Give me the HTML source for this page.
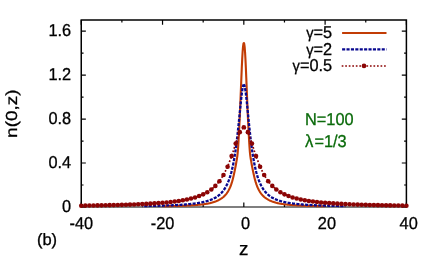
<!DOCTYPE html><html><head><meta charset="utf-8"><style>html,body{margin:0;padding:0;background:#fff}svg{display:block;will-change:transform}text{text-rendering:geometricPrecision;font-family:"Liberation Sans",sans-serif;font-size:17.2px;letter-spacing:0px;fill:#000;stroke:#000;stroke-width:0.3px}</style></head><body>
<svg width="436" height="260" viewBox="0 0 436 260">
<rect width="436" height="260" fill="#fff"/>
<g stroke="#000" stroke-width="1.5" fill="none">
<path d="M81.25,207.00 V20.10 H406.40 V207.00" stroke-linejoin="miter"/>
</g><g stroke="#000" stroke-width="1.2" fill="none">
<path d="M80.50,207.00 H407.15"/>
<path d="M81.25,207.00 v-4.60 M81.25,20.10 v4.60"/>
<path d="M121.89,207.00 v-2.30 M121.89,20.10 v2.30"/>
<path d="M162.54,207.00 v-4.60 M162.54,20.10 v4.60"/>
<path d="M203.18,207.00 v-2.30 M203.18,20.10 v2.30"/>
<path d="M243.82,207.00 v-4.60 M243.82,20.10 v4.60"/>
<path d="M284.47,207.00 v-2.30 M284.47,20.10 v2.30"/>
<path d="M325.11,207.00 v-4.60 M325.11,20.10 v4.60"/>
<path d="M365.76,207.00 v-2.30 M365.76,20.10 v2.30"/>
<path d="M406.40,207.00 v-4.60 M406.40,20.10 v4.60"/>
<path d="M81.25,207.00 h4.60 M406.40,207.00 h-4.60"/>
<path d="M81.25,185.01 h2.30 M406.40,185.01 h-2.30"/>
<path d="M81.25,163.02 h4.60 M406.40,163.02 h-4.60"/>
<path d="M81.25,141.04 h2.30 M406.40,141.04 h-2.30"/>
<path d="M81.25,119.05 h4.60 M406.40,119.05 h-4.60"/>
<path d="M81.25,97.06 h2.30 M406.40,97.06 h-2.30"/>
<path d="M81.25,75.07 h4.60 M406.40,75.07 h-4.60"/>
<path d="M81.25,53.08 h2.30 M406.40,53.08 h-2.30"/>
<path d="M81.25,31.09 h4.60 M406.40,31.09 h-4.60"/>
</g>
<path d="M162.54,206.26 L162.94,206.25 L163.35,206.24 L163.76,206.24 L164.16,206.23 L164.57,206.22 L164.98,206.22 L165.38,206.21 L165.79,206.20 L166.20,206.19 L166.60,206.18 L167.01,206.18 L167.41,206.17 L167.82,206.16 L168.23,206.15 L168.63,206.14 L169.04,206.13 L169.45,206.13 L169.85,206.12 L170.26,206.11 L170.67,206.10 L171.07,206.09 L171.48,206.08 L171.89,206.07 L172.29,206.06 L172.70,206.05 L173.10,206.04 L173.51,206.03 L173.92,206.02 L174.32,206.01 L174.73,206.00 L175.14,205.99 L175.54,205.97 L175.95,205.96 L176.36,205.95 L176.76,205.94 L177.17,205.93 L177.58,205.91 L177.98,205.90 L178.39,205.89 L178.80,205.88 L179.20,205.86 L179.61,205.85 L180.01,205.84 L180.42,205.82 L180.83,205.81 L181.23,205.79 L181.64,205.78 L182.05,205.76 L182.45,205.75 L182.86,205.73 L183.27,205.72 L183.67,205.70 L184.08,205.68 L184.49,205.67 L184.89,205.65 L185.30,205.63 L185.70,205.62 L186.11,205.60 L186.52,205.58 L186.92,205.56 L187.33,205.54 L187.74,205.52 L188.14,205.50 L188.55,205.48 L188.96,205.46 L189.36,205.44 L189.77,205.42 L190.18,205.39 L190.58,205.37 L190.99,205.35 L191.39,205.32 L191.80,205.30 L192.21,205.27 L192.61,205.25 L193.02,205.22 L193.43,205.19 L193.83,205.17 L194.24,205.14 L194.65,205.11 L195.05,205.08 L195.46,205.05 L195.87,205.02 L196.27,204.99 L196.68,204.96 L197.08,204.92 L197.49,204.89 L197.90,204.85 L198.30,204.82 L198.71,204.78 L199.12,204.74 L199.52,204.70 L199.93,204.66 L200.34,204.62 L200.74,204.58 L201.15,204.53 L201.56,204.49 L201.96,204.44 L202.37,204.39 L202.77,204.35 L203.18,204.29 L203.59,204.24 L203.99,204.19 L204.40,204.13 L204.81,204.07 L205.21,204.01 L205.62,203.95 L206.03,203.89 L206.43,203.82 L206.84,203.75 L207.25,203.68 L207.65,203.61 L208.06,203.53 L208.46,203.45 L208.87,203.37 L209.28,203.29 L209.68,203.20 L210.09,203.11 L210.50,203.01 L210.90,202.91 L211.31,202.81 L211.72,202.70 L212.12,202.59 L212.53,202.48 L212.94,202.36 L213.34,202.24 L213.75,202.11 L214.16,201.98 L214.56,201.84 L214.97,201.69 L215.37,201.55 L215.78,201.39 L216.19,201.23 L216.59,201.06 L217.00,200.89 L217.41,200.71 L217.81,200.52 L218.22,200.32 L218.63,200.12 L219.03,199.91 L219.44,199.69 L219.85,199.46 L220.25,199.22 L220.66,198.97 L221.06,198.71 L221.47,198.43 L221.88,198.15 L222.28,197.85 L222.69,197.53 L223.10,197.20 L223.50,196.86 L223.91,196.49 L224.32,196.11 L224.72,195.70 L225.13,195.28 L225.54,194.83 L225.94,194.35 L226.35,193.84 L226.75,193.31 L227.16,192.73 L227.57,192.13 L227.97,191.48 L228.38,190.79 L228.79,190.05 L229.19,189.26 L229.60,188.41 L230.01,187.51 L230.41,186.54 L230.82,185.50 L231.23,184.39 L231.63,183.19 L232.04,181.91 L232.44,180.52 L232.85,179.00 L233.26,177.36 L233.66,175.61 L234.07,173.77 L234.48,171.87 L234.88,169.92 L235.29,167.90 L235.70,165.79 L236.10,163.54 L236.51,161.16 L236.92,158.78 L237.32,156.05 L237.73,152.36 L238.13,147.15 L238.54,140.58 L238.95,133.21 L239.35,125.44 L239.76,116.87 L240.17,107.58 L240.57,97.75 L240.98,87.61 L241.39,77.50 L241.79,67.83 L242.20,59.14 L242.61,51.98 L243.01,46.79 L243.42,43.81 L243.83,42.97 L244.23,43.81 L244.64,46.79 L245.04,51.98 L245.45,59.14 L245.86,67.83 L246.26,77.50 L246.67,87.61 L247.08,97.75 L247.48,107.58 L247.89,116.87 L248.30,125.44 L248.70,133.21 L249.11,140.58 L249.52,147.15 L249.92,152.36 L250.33,156.05 L250.73,158.78 L251.14,161.16 L251.55,163.54 L251.95,165.79 L252.36,167.90 L252.77,169.92 L253.17,171.87 L253.58,173.77 L253.99,175.61 L254.39,177.36 L254.80,179.00 L255.21,180.52 L255.61,181.91 L256.02,183.19 L256.42,184.39 L256.83,185.50 L257.24,186.54 L257.64,187.51 L258.05,188.41 L258.46,189.26 L258.86,190.05 L259.27,190.79 L259.68,191.48 L260.08,192.13 L260.49,192.73 L260.90,193.31 L261.30,193.84 L261.71,194.35 L262.11,194.83 L262.52,195.28 L262.93,195.70 L263.33,196.11 L263.74,196.49 L264.15,196.86 L264.55,197.20 L264.96,197.53 L265.37,197.85 L265.77,198.15 L266.18,198.43 L266.59,198.71 L266.99,198.97 L267.40,199.22 L267.80,199.46 L268.21,199.69 L268.62,199.91 L269.02,200.12 L269.43,200.32 L269.84,200.52 L270.24,200.71 L270.65,200.89 L271.06,201.06 L271.46,201.23 L271.87,201.39 L272.28,201.55 L272.68,201.69 L273.09,201.84 L273.49,201.98 L273.90,202.11 L274.31,202.24 L274.71,202.36 L275.12,202.48 L275.53,202.59 L275.93,202.70 L276.34,202.81 L276.75,202.91 L277.15,203.01 L277.56,203.11 L277.97,203.20 L278.37,203.29 L278.78,203.37 L279.19,203.45 L279.59,203.53 L280.00,203.61 L280.40,203.68 L280.81,203.75 L281.22,203.82 L281.62,203.89 L282.03,203.95 L282.44,204.01 L282.84,204.07 L283.25,204.13 L283.66,204.19 L284.06,204.24 L284.47,204.29 L284.88,204.35 L285.28,204.39 L285.69,204.44 L286.09,204.49 L286.50,204.53 L286.91,204.58 L287.31,204.62 L287.72,204.66 L288.13,204.70 L288.53,204.74 L288.94,204.78 L289.35,204.82 L289.75,204.85 L290.16,204.89 L290.57,204.92 L290.97,204.96 L291.38,204.99 L291.78,205.02 L292.19,205.05 L292.60,205.08 L293.00,205.11 L293.41,205.14 L293.82,205.17 L294.22,205.19 L294.63,205.22 L295.04,205.25 L295.44,205.27 L295.85,205.30 L296.26,205.32 L296.66,205.35 L297.07,205.37 L297.47,205.39 L297.88,205.42 L298.29,205.44 L298.69,205.46 L299.10,205.48 L299.51,205.50 L299.91,205.52 L300.32,205.54 L300.73,205.56 L301.13,205.58 L301.54,205.60 L301.95,205.62 L302.35,205.63 L302.76,205.65 L303.16,205.67 L303.57,205.68 L303.98,205.70 L304.38,205.72 L304.79,205.73 L305.20,205.75 L305.60,205.76 L306.01,205.78 L306.42,205.79 L306.82,205.81 L307.23,205.82 L307.64,205.84 L308.04,205.85 L308.45,205.86 L308.85,205.88 L309.26,205.89 L309.67,205.90 L310.07,205.91 L310.48,205.93 L310.89,205.94 L311.29,205.95 L311.70,205.96 L312.11,205.97 L312.51,205.99 L312.92,206.00 L313.33,206.01 L313.73,206.02 L314.14,206.03 L314.55,206.04 L314.95,206.05 L315.36,206.06 L315.76,206.07 L316.17,206.08 L316.58,206.09 L316.98,206.10 L317.39,206.11 L317.80,206.12 L318.20,206.13 L318.61,206.13 L319.02,206.14 L319.42,206.15 L319.83,206.16 L320.24,206.17 L320.64,206.18 L321.05,206.18 L321.45,206.19 L321.86,206.20 L322.27,206.21 L322.67,206.22 L323.08,206.22 L323.49,206.23 L323.89,206.24 L324.30,206.24 L324.71,206.25 L325.11,206.26" fill="none" stroke="#c23c05" stroke-width="2.1" stroke-linejoin="round"/>
<path d="M243.82,84.53 L243.42,84.99 L243.01,86.23 L242.61,88.14 L242.20,90.64 L241.79,93.63 L241.39,97.02 L240.98,100.71 L240.57,104.62 L240.17,108.66 L239.76,112.78 L239.35,116.90 L238.95,120.99 L238.54,125.00 L238.13,128.90 L237.73,132.68 L237.32,136.30 L236.92,139.77 L236.51,143.08 L236.10,146.22 L235.70,149.20 L235.29,152.02 L234.88,154.69 L234.48,157.20 L234.07,159.57 L233.66,161.81 L233.26,163.91 L232.85,165.89 L232.44,167.76 L232.04,169.51 L231.63,171.17 L231.23,172.73 L230.82,174.19 L230.41,175.58 L230.01,176.89 L229.60,178.12 L229.19,179.28 L228.79,180.38 L228.38,181.42 L227.97,182.41 L227.57,183.34 L227.16,184.22 L226.75,185.06 L226.35,185.85 L225.94,186.61 L225.54,187.32 L225.13,188.00 L224.72,188.65 L224.32,189.26 L223.91,189.85 L223.50,190.41 L223.10,190.94 L222.69,191.45 L222.28,191.93 L221.88,192.40 L221.47,192.84 L221.06,193.26 L220.66,193.67 L220.25,194.05 L219.85,194.43 L219.44,194.78 L219.03,195.12 L218.63,195.45 L218.22,195.76 L217.81,196.07 L217.41,196.36 L217.00,196.63 L216.59,196.90 L216.19,197.16 L215.78,197.41 L215.37,197.65 L214.97,197.88 L214.56,198.10 L214.16,198.31 L213.75,198.52 L213.34,198.72 L212.94,198.91 L212.53,199.10 L212.12,199.28 L211.72,199.45 L211.31,199.62 L210.90,199.78 L210.50,199.94 L210.09,200.09 L209.68,200.23 L209.28,200.38 L208.87,200.51 L208.46,200.65 L208.06,200.78 L207.65,200.90 L207.25,201.02 L206.84,201.14 L206.43,201.26 L206.03,201.37 L205.62,201.48 L205.21,201.58 L204.81,201.68 L204.40,201.78 L203.99,201.88 L203.59,201.97 L203.18,202.07 L202.77,202.15 L202.37,202.24 L201.96,202.32 L201.56,202.41 L201.15,202.49 L200.74,202.56 L200.34,202.64 L199.93,202.71 L199.52,202.78 L199.12,202.85 L198.71,202.92 L198.30,202.99 L197.90,203.05 L197.49,203.12 L197.08,203.18 L196.68,203.24 L196.27,203.30 L195.87,203.36 L195.46,203.41 L195.05,203.47 L194.65,203.52 L194.24,203.57 L193.83,203.63 L193.43,203.68 L193.02,203.72 L192.61,203.77 L192.21,203.82 L191.80,203.87 L191.39,203.91 L190.99,203.95 L190.58,204.00 L190.18,204.04 L189.77,204.08 L189.36,204.12 L188.96,204.16 L188.55,204.20 L188.14,204.24 L187.74,204.27 L187.33,204.31 L186.92,204.35 L186.52,204.38 L186.11,204.41 L185.70,204.45 L185.30,204.48 L184.89,204.51 L184.49,204.54 L184.08,204.58 L183.67,204.61 L183.27,204.64 L182.86,204.67 L182.45,204.69 L182.05,204.72 L181.64,204.75 L181.23,204.78 L180.83,204.80 L180.42,204.83 L180.01,204.86 L179.61,204.88 L179.20,204.91 L178.80,204.93 L178.39,204.95 L177.98,204.98 L177.58,205.00 L177.17,205.02 L176.76,205.05 L176.36,205.07 L175.95,205.09 L175.54,205.11 L175.14,205.13 L174.73,205.15 L174.32,205.17 L173.92,205.19 L173.51,205.21 L173.10,205.23 L172.70,205.25 L172.29,205.27 L171.89,205.29 L171.48,205.30 L171.07,205.32 L170.67,205.34 L170.26,205.36 L169.85,205.37 L169.45,205.39 L169.04,205.41 L168.63,205.42 L168.23,205.44 L167.82,205.45 L167.41,205.47 L167.01,205.48 L166.60,205.50 L166.20,205.51 L165.79,205.53 L165.38,205.54 L164.98,205.56 L164.57,205.57 L164.16,205.58 L163.76,205.60 L163.35,205.61 L162.94,205.62 L162.54,205.64 L162.13,205.65 L161.72,205.66 L161.32,205.68 L160.91,205.69 L160.51,205.70 L160.10,205.71 L159.69,205.72 L159.29,205.73 L158.88,205.75 L158.47,205.76 L158.07,205.77 L157.66,205.78 L157.25,205.79 L156.85,205.80 L156.44,205.81 L156.03,205.82 L155.63,205.83 L155.22,205.84 L154.82,205.85 L154.41,205.86 L154.00,205.87 L153.60,205.88 L153.19,205.89 L152.78,205.90 L152.38,205.91 L151.97,205.92 L151.56,205.93 L151.16,205.94 L150.75,205.94 L150.34,205.95 L149.94,205.96 L149.53,205.97 L149.13,205.98 L148.72,205.99 L148.31,205.99 L147.91,206.00 L147.50,206.01 L147.09,206.02 L146.69,206.03 L146.28,206.03 L145.87,206.04 L145.47,206.05 L145.06,206.06 L144.65,206.06 L144.25,206.07 L143.84,206.08 L143.43,206.08 L143.03,206.09 L142.62,206.10 L142.22,206.10" fill="none" stroke="#08088f" stroke-width="2.3" stroke-dasharray="3.1,1.3" stroke-dashoffset="0.5" stroke-linejoin="round"/>
<path d="M243.82,84.53 L244.23,84.99 L244.64,86.23 L245.04,88.14 L245.45,90.64 L245.86,93.63 L246.26,97.02 L246.67,100.71 L247.08,104.62 L247.48,108.66 L247.89,112.78 L248.30,116.90 L248.70,120.99 L249.11,125.00 L249.52,128.90 L249.92,132.68 L250.33,136.30 L250.73,139.77 L251.14,143.08 L251.55,146.22 L251.95,149.20 L252.36,152.02 L252.77,154.69 L253.17,157.20 L253.58,159.57 L253.99,161.81 L254.39,163.91 L254.80,165.89 L255.21,167.76 L255.61,169.51 L256.02,171.17 L256.42,172.73 L256.83,174.19 L257.24,175.58 L257.64,176.89 L258.05,178.12 L258.46,179.28 L258.86,180.38 L259.27,181.42 L259.68,182.41 L260.08,183.34 L260.49,184.22 L260.90,185.06 L261.30,185.85 L261.71,186.61 L262.11,187.32 L262.52,188.00 L262.93,188.65 L263.33,189.26 L263.74,189.85 L264.15,190.41 L264.55,190.94 L264.96,191.45 L265.37,191.93 L265.77,192.40 L266.18,192.84 L266.59,193.26 L266.99,193.67 L267.40,194.05 L267.80,194.43 L268.21,194.78 L268.62,195.12 L269.02,195.45 L269.43,195.76 L269.84,196.07 L270.24,196.36 L270.65,196.63 L271.06,196.90 L271.46,197.16 L271.87,197.41 L272.28,197.65 L272.68,197.88 L273.09,198.10 L273.49,198.31 L273.90,198.52 L274.31,198.72 L274.71,198.91 L275.12,199.10 L275.53,199.28 L275.93,199.45 L276.34,199.62 L276.75,199.78 L277.15,199.94 L277.56,200.09 L277.97,200.23 L278.37,200.38 L278.78,200.51 L279.19,200.65 L279.59,200.78 L280.00,200.90 L280.40,201.02 L280.81,201.14 L281.22,201.26 L281.62,201.37 L282.03,201.48 L282.44,201.58 L282.84,201.68 L283.25,201.78 L283.66,201.88 L284.06,201.97 L284.47,202.07 L284.88,202.15 L285.28,202.24 L285.69,202.32 L286.09,202.41 L286.50,202.49 L286.91,202.56 L287.31,202.64 L287.72,202.71 L288.13,202.78 L288.53,202.85 L288.94,202.92 L289.35,202.99 L289.75,203.05 L290.16,203.12 L290.57,203.18 L290.97,203.24 L291.38,203.30 L291.78,203.36 L292.19,203.41 L292.60,203.47 L293.00,203.52 L293.41,203.57 L293.82,203.63 L294.22,203.68 L294.63,203.72 L295.04,203.77 L295.44,203.82 L295.85,203.87 L296.26,203.91 L296.66,203.95 L297.07,204.00 L297.47,204.04 L297.88,204.08 L298.29,204.12 L298.69,204.16 L299.10,204.20 L299.51,204.24 L299.91,204.27 L300.32,204.31 L300.73,204.35 L301.13,204.38 L301.54,204.41 L301.95,204.45 L302.35,204.48 L302.76,204.51 L303.16,204.54 L303.57,204.58 L303.98,204.61 L304.38,204.64 L304.79,204.67 L305.20,204.69 L305.60,204.72 L306.01,204.75 L306.42,204.78 L306.82,204.80 L307.23,204.83 L307.64,204.86 L308.04,204.88 L308.45,204.91 L308.85,204.93 L309.26,204.95 L309.67,204.98 L310.07,205.00 L310.48,205.02 L310.89,205.05 L311.29,205.07 L311.70,205.09 L312.11,205.11 L312.51,205.13 L312.92,205.15 L313.33,205.17 L313.73,205.19 L314.14,205.21 L314.55,205.23 L314.95,205.25 L315.36,205.27 L315.76,205.29 L316.17,205.30 L316.58,205.32 L316.98,205.34 L317.39,205.36 L317.80,205.37 L318.20,205.39 L318.61,205.41 L319.02,205.42 L319.42,205.44 L319.83,205.45 L320.24,205.47 L320.64,205.48 L321.05,205.50 L321.45,205.51 L321.86,205.53 L322.27,205.54 L322.67,205.56 L323.08,205.57 L323.49,205.58 L323.89,205.60 L324.30,205.61 L324.71,205.62 L325.11,205.64 L325.52,205.65 L325.93,205.66 L326.33,205.68 L326.74,205.69 L327.14,205.70 L327.55,205.71 L327.96,205.72 L328.36,205.73 L328.77,205.75 L329.18,205.76 L329.58,205.77 L329.99,205.78 L330.40,205.79 L330.80,205.80 L331.21,205.81 L331.62,205.82 L332.02,205.83 L332.43,205.84 L332.83,205.85 L333.24,205.86 L333.65,205.87 L334.05,205.88 L334.46,205.89 L334.87,205.90 L335.27,205.91 L335.68,205.92 L336.09,205.93 L336.49,205.94 L336.90,205.94 L337.31,205.95 L337.71,205.96 L338.12,205.97 L338.52,205.98 L338.93,205.99 L339.34,205.99 L339.74,206.00 L340.15,206.01 L340.56,206.02 L340.96,206.03 L341.37,206.03 L341.78,206.04 L342.18,206.05 L342.59,206.06 L343.00,206.06 L343.40,206.07 L343.81,206.08 L344.22,206.08 L344.62,206.09 L345.03,206.10 L345.43,206.10" fill="none" stroke="#08088f" stroke-width="2.3" stroke-dasharray="3.1,1.3" stroke-dashoffset="0.5" stroke-linejoin="round"/>
<path d="M81.25,205.68 L85.31,205.62 L89.38,205.56 L93.44,205.49 L97.51,205.42 L101.57,205.35 L105.64,205.26 L109.70,205.17 L113.76,205.08 L117.83,204.97 L121.89,204.86 L125.96,204.73 L130.02,204.60 L134.09,204.45 L138.15,204.28 L142.22,204.10 L146.28,203.89 L150.34,203.66 L154.41,203.41 L158.47,203.12 L162.54,202.80 L166.60,202.43 L170.67,202.00 L174.73,201.51 L178.79,200.95 L182.86,200.28 L186.92,199.50 L190.99,198.56 L195.05,197.43 L199.12,196.05 L203.18,194.35 L207.25,192.20 L211.31,189.47 L215.37,185.92 L219.44,181.25 L223.50,175.03 L227.57,166.76 L231.63,156.09 L235.70,143.58 L239.76,132.17 L243.82,127.29 L247.89,132.17 L251.95,143.58 L256.02,156.09 L260.08,166.76 L264.15,175.03 L268.21,181.25 L272.28,185.92 L276.34,189.47 L280.40,192.20 L284.47,194.35 L288.53,196.05 L292.60,197.43 L296.66,198.56 L300.73,199.50 L304.79,200.28 L308.86,200.95 L312.92,201.51 L316.98,202.00 L321.05,202.43 L325.11,202.80 L329.18,203.12 L333.24,203.41 L337.31,203.66 L341.37,203.89 L345.43,204.10 L349.50,204.28 L353.56,204.45 L357.63,204.60 L361.69,204.73 L365.76,204.86 L369.82,204.97 L373.88,205.08 L377.95,205.17 L382.01,205.26 L386.08,205.35 L390.14,205.42 L394.21,205.49 L398.27,205.56 L402.34,205.62 L406.40,205.68" fill="none" stroke="#8b0505" stroke-width="1.7" stroke-dasharray="1.7,1.83"/>
<circle cx="81.25" cy="205.68" r="2.3" fill="#8b0505"/>
<circle cx="85.31" cy="205.62" r="2.3" fill="#8b0505"/>
<circle cx="89.38" cy="205.56" r="2.3" fill="#8b0505"/>
<circle cx="93.44" cy="205.49" r="2.3" fill="#8b0505"/>
<circle cx="97.51" cy="205.42" r="2.3" fill="#8b0505"/>
<circle cx="101.57" cy="205.35" r="2.3" fill="#8b0505"/>
<circle cx="105.64" cy="205.26" r="2.3" fill="#8b0505"/>
<circle cx="109.70" cy="205.17" r="2.3" fill="#8b0505"/>
<circle cx="113.76" cy="205.08" r="2.3" fill="#8b0505"/>
<circle cx="117.83" cy="204.97" r="2.3" fill="#8b0505"/>
<circle cx="121.89" cy="204.86" r="2.3" fill="#8b0505"/>
<circle cx="125.96" cy="204.73" r="2.3" fill="#8b0505"/>
<circle cx="130.02" cy="204.60" r="2.3" fill="#8b0505"/>
<circle cx="134.09" cy="204.45" r="2.3" fill="#8b0505"/>
<circle cx="138.15" cy="204.28" r="2.3" fill="#8b0505"/>
<circle cx="142.22" cy="204.10" r="2.3" fill="#8b0505"/>
<circle cx="146.28" cy="203.89" r="2.3" fill="#8b0505"/>
<circle cx="150.34" cy="203.66" r="2.3" fill="#8b0505"/>
<circle cx="154.41" cy="203.41" r="2.3" fill="#8b0505"/>
<circle cx="158.47" cy="203.12" r="2.3" fill="#8b0505"/>
<circle cx="162.54" cy="202.80" r="2.3" fill="#8b0505"/>
<circle cx="166.60" cy="202.43" r="2.3" fill="#8b0505"/>
<circle cx="170.67" cy="202.00" r="2.3" fill="#8b0505"/>
<circle cx="174.73" cy="201.51" r="2.3" fill="#8b0505"/>
<circle cx="178.79" cy="200.95" r="2.3" fill="#8b0505"/>
<circle cx="182.86" cy="200.28" r="2.3" fill="#8b0505"/>
<circle cx="186.92" cy="199.50" r="2.3" fill="#8b0505"/>
<circle cx="190.99" cy="198.56" r="2.3" fill="#8b0505"/>
<circle cx="195.05" cy="197.43" r="2.3" fill="#8b0505"/>
<circle cx="199.12" cy="196.05" r="2.3" fill="#8b0505"/>
<circle cx="203.18" cy="194.35" r="2.3" fill="#8b0505"/>
<circle cx="207.25" cy="192.20" r="2.3" fill="#8b0505"/>
<circle cx="211.31" cy="189.47" r="2.3" fill="#8b0505"/>
<circle cx="215.37" cy="185.92" r="2.3" fill="#8b0505"/>
<circle cx="219.44" cy="181.25" r="2.3" fill="#8b0505"/>
<circle cx="223.50" cy="175.03" r="2.3" fill="#8b0505"/>
<circle cx="227.57" cy="166.76" r="2.3" fill="#8b0505"/>
<circle cx="231.63" cy="156.09" r="2.3" fill="#8b0505"/>
<circle cx="235.70" cy="143.58" r="2.3" fill="#8b0505"/>
<circle cx="239.76" cy="132.17" r="2.3" fill="#8b0505"/>
<circle cx="243.82" cy="127.29" r="2.3" fill="#8b0505"/>
<circle cx="247.89" cy="132.17" r="2.3" fill="#8b0505"/>
<circle cx="251.95" cy="143.58" r="2.3" fill="#8b0505"/>
<circle cx="256.02" cy="156.09" r="2.3" fill="#8b0505"/>
<circle cx="260.08" cy="166.76" r="2.3" fill="#8b0505"/>
<circle cx="264.15" cy="175.03" r="2.3" fill="#8b0505"/>
<circle cx="268.21" cy="181.25" r="2.3" fill="#8b0505"/>
<circle cx="272.28" cy="185.92" r="2.3" fill="#8b0505"/>
<circle cx="276.34" cy="189.47" r="2.3" fill="#8b0505"/>
<circle cx="280.40" cy="192.20" r="2.3" fill="#8b0505"/>
<circle cx="284.47" cy="194.35" r="2.3" fill="#8b0505"/>
<circle cx="288.53" cy="196.05" r="2.3" fill="#8b0505"/>
<circle cx="292.60" cy="197.43" r="2.3" fill="#8b0505"/>
<circle cx="296.66" cy="198.56" r="2.3" fill="#8b0505"/>
<circle cx="300.73" cy="199.50" r="2.3" fill="#8b0505"/>
<circle cx="304.79" cy="200.28" r="2.3" fill="#8b0505"/>
<circle cx="308.86" cy="200.95" r="2.3" fill="#8b0505"/>
<circle cx="312.92" cy="201.51" r="2.3" fill="#8b0505"/>
<circle cx="316.98" cy="202.00" r="2.3" fill="#8b0505"/>
<circle cx="321.05" cy="202.43" r="2.3" fill="#8b0505"/>
<circle cx="325.11" cy="202.80" r="2.3" fill="#8b0505"/>
<circle cx="329.18" cy="203.12" r="2.3" fill="#8b0505"/>
<circle cx="333.24" cy="203.41" r="2.3" fill="#8b0505"/>
<circle cx="337.31" cy="203.66" r="2.3" fill="#8b0505"/>
<circle cx="341.37" cy="203.89" r="2.3" fill="#8b0505"/>
<circle cx="345.43" cy="204.10" r="2.3" fill="#8b0505"/>
<circle cx="349.50" cy="204.28" r="2.3" fill="#8b0505"/>
<circle cx="353.56" cy="204.45" r="2.3" fill="#8b0505"/>
<circle cx="357.63" cy="204.60" r="2.3" fill="#8b0505"/>
<circle cx="361.69" cy="204.73" r="2.3" fill="#8b0505"/>
<circle cx="365.76" cy="204.86" r="2.3" fill="#8b0505"/>
<circle cx="369.82" cy="204.97" r="2.3" fill="#8b0505"/>
<circle cx="373.88" cy="205.08" r="2.3" fill="#8b0505"/>
<circle cx="377.95" cy="205.17" r="2.3" fill="#8b0505"/>
<circle cx="382.01" cy="205.26" r="2.3" fill="#8b0505"/>
<circle cx="386.08" cy="205.35" r="2.3" fill="#8b0505"/>
<circle cx="390.14" cy="205.42" r="2.3" fill="#8b0505"/>
<circle cx="394.21" cy="205.49" r="2.3" fill="#8b0505"/>
<circle cx="398.27" cy="205.56" r="2.3" fill="#8b0505"/>
<circle cx="402.34" cy="205.62" r="2.3" fill="#8b0505"/>
<circle cx="406.40" cy="205.68" r="2.3" fill="#8b0505"/>
<path d="M342.1,33.0 H386.5" stroke="#c23c05" stroke-width="2.2"/>
<path d="M342.1,49.3 H386.5" stroke="#08088f" stroke-width="2.3" stroke-dasharray="3.1,1.3"/>
<path d="M341.7,66.0 H386.9" stroke="#8b0505" stroke-width="1.7" stroke-dasharray="1.7,1.83"/>
<circle cx="364.0" cy="65.9" r="2.35" fill="#8b0505"/>
<text transform="translate(332.20,38.30) scale(0.950,1)" text-anchor="end" ><tspan style="font-size:15.5px">γ</tspan>=5</text>
<text transform="translate(332.20,55.20) scale(0.950,1)" text-anchor="end" ><tspan style="font-size:15.5px">γ</tspan>=2</text>
<text transform="translate(332.20,71.30) scale(0.950,1)" text-anchor="end" ><tspan style="font-size:15.5px">γ</tspan>=0.5</text>
<text transform="translate(71.10,36.39) scale(0.950,1)" text-anchor="end" >1.6</text>
<text transform="translate(71.10,80.37) scale(0.950,1)" text-anchor="end" >1.2</text>
<text transform="translate(71.10,124.35) scale(0.950,1)" text-anchor="end" >0.8</text>
<text transform="translate(71.10,168.32) scale(0.950,1)" text-anchor="end" >0.4</text>
<text transform="translate(71.10,212.30) scale(0.950,1)" text-anchor="end" >0</text>
<text transform="translate(81.25,228.70) scale(0.950,1)" text-anchor="middle" >-40</text>
<text transform="translate(162.54,228.70) scale(0.950,1)" text-anchor="middle" >-20</text>
<text transform="translate(245.62,228.70) scale(0.950,1)" text-anchor="middle" >0</text>
<text transform="translate(326.91,228.70) scale(0.950,1)" text-anchor="middle" >20</text>
<text transform="translate(408.70,228.70) scale(0.950,1)" text-anchor="middle" >40</text>
<text transform="translate(243.80,254.50) scale(1.000,1)" text-anchor="middle" style="font-size:18.8px">z</text>
<text transform="translate(36.90,245.20) scale(1.000,1)" text-anchor="start" style="font-size:16.5px">(b)</text>
<text transform="translate(17.1,113.6) rotate(-90) scale(1.187,1)" text-anchor="middle" style="font-size:16px">n(0,z)</text>
<text transform="translate(305.00,124.50) scale(0.950,1)" text-anchor="start" style="fill:#0a6a0a;stroke:#0a6a0a">N=100</text>
<text transform="translate(305.00,146.90) scale(0.950,1)" text-anchor="start" style="fill:#0a6a0a;stroke:#0a6a0a"><tspan style="font-size:17.6px">λ</tspan><tspan dx="1.1">=1/3</tspan></text>
</svg></body></html>
